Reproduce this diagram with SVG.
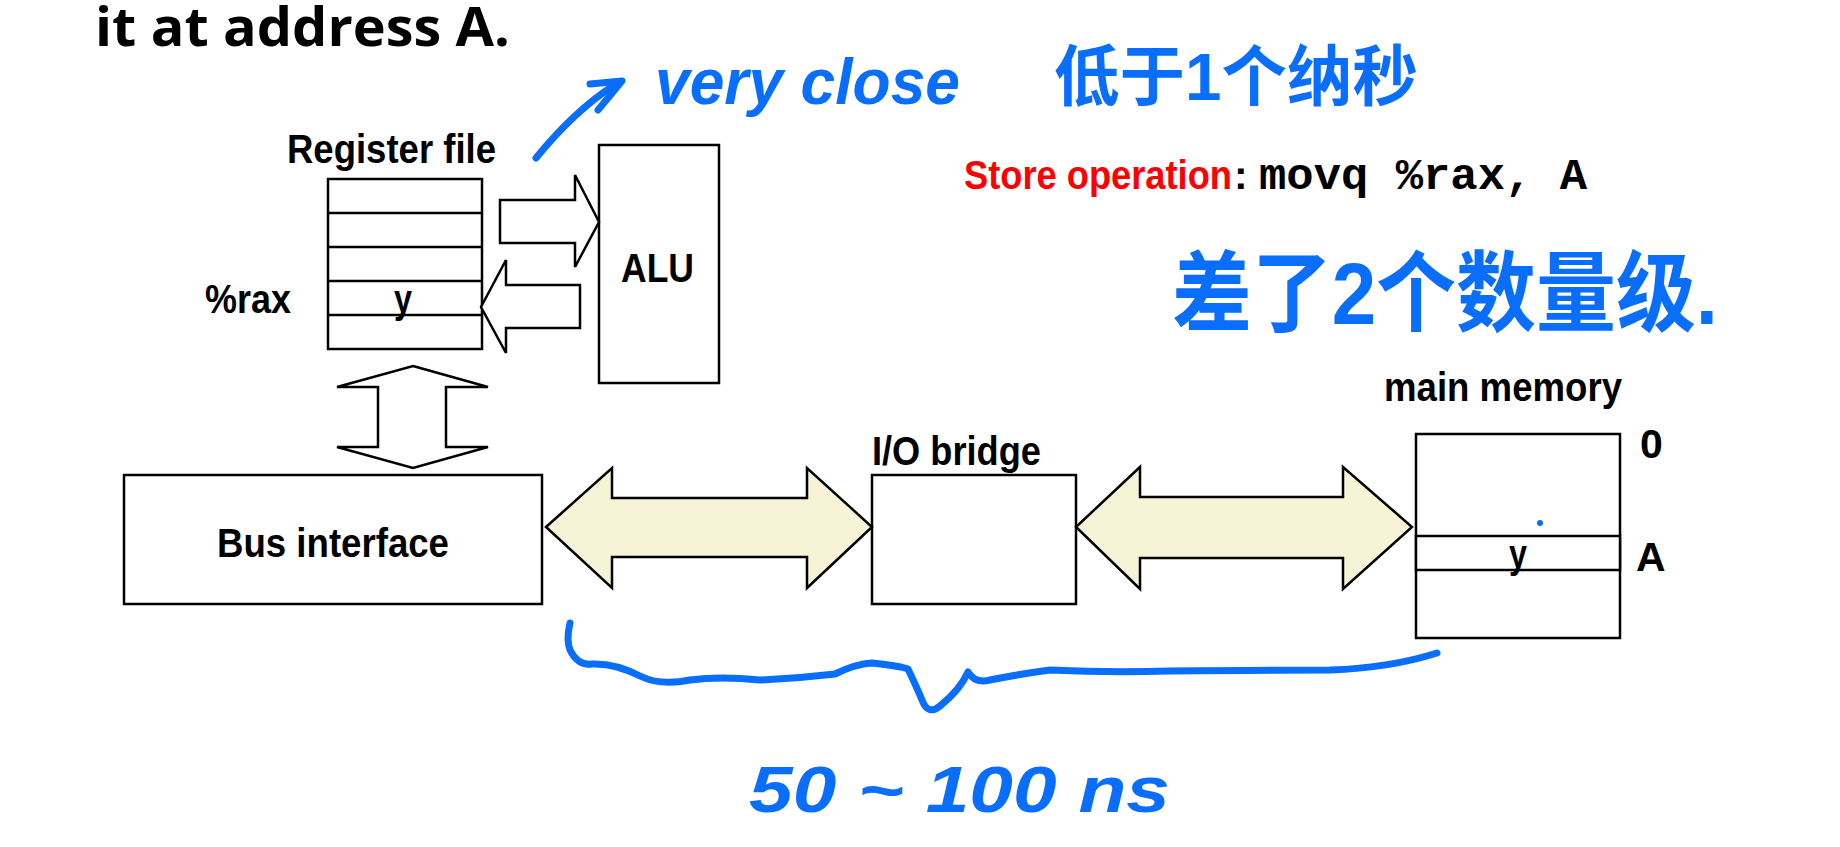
<svg xmlns="http://www.w3.org/2000/svg" width="1840" height="847" viewBox="0 0 1840 847">
<defs>
<style>
.box{fill:#fff;stroke:#000;stroke-width:2.5}
.line{stroke:#000;stroke-width:2.5}
.blk{fill:#fff;stroke:#000;stroke-width:2.5;stroke-linejoin:miter}
.bus{fill:#f7f3d6;stroke:#000;stroke-width:2.5;stroke-linejoin:miter}
.lbl{font-family:"Liberation Sans",Arial,sans-serif;font-weight:bold;font-size:41px;fill:#000}
.title{font-family:"Open Sans","Liberation Sans",sans-serif;font-weight:bold;font-size:54px;fill:#000}
.mono{font-family:"Liberation Mono","Courier New",monospace;font-weight:bold;font-size:44px;fill:#000}
.hand{font-family:"Liberation Sans","Noto Sans CJK SC",sans-serif;font-weight:bold;fill:#0a6efd}
.ink{fill:none;stroke:#0a6efd;stroke-linecap:round;stroke-linejoin:round}
</style>
</defs>
<rect width="1840" height="847" fill="#fff"/>

<text class="title" x="95" y="46" textLength="415" lengthAdjust="spacingAndGlyphs">it at address A.</text>

<g id="register-file">
<text class="lbl" x="287" y="163" textLength="209" lengthAdjust="spacingAndGlyphs">Register file</text>
<rect class="box" x="328" y="179" width="154" height="170"/>
<line class="line" x1="328" y1="213" x2="482" y2="213"/>
<line class="line" x1="328" y1="247" x2="482" y2="247"/>
<line class="line" x1="328" y1="281" x2="482" y2="281"/>
<line class="line" x1="328" y1="315" x2="482" y2="315"/>
<text class="lbl" x="205" y="313" textLength="86" lengthAdjust="spacingAndGlyphs">%rax</text>
<text class="lbl" x="394" y="313" textLength="18" lengthAdjust="spacingAndGlyphs">y</text>
</g>

<g id="alu">
<rect class="box" x="599" y="145" width="120" height="238"/>
<text class="lbl" x="621" y="282" textLength="73" lengthAdjust="spacingAndGlyphs">ALU</text>
</g>

<g id="bus-interface">
<rect class="box" x="124" y="475" width="418" height="129"/>
<text class="lbl" x="217" y="557" textLength="232" lengthAdjust="spacingAndGlyphs">Bus interface</text>
</g>

<g id="io-bridge">
<text class="lbl" x="872" y="465" textLength="169" lengthAdjust="spacingAndGlyphs">I/O bridge</text>
<rect class="box" x="872" y="475" width="204" height="129"/>
</g>

<g id="main-memory">
<text class="lbl" x="1384" y="401" textLength="238" lengthAdjust="spacingAndGlyphs">main memory</text>
<rect class="box" x="1416" y="434" width="204" height="204"/>
<rect class="box" x="1416" y="536" width="204" height="34"/>
<text class="lbl" x="1509" y="568" textLength="18" lengthAdjust="spacingAndGlyphs">y</text>
<text class="lbl" x="1640" y="458">0</text>
<text class="lbl" x="1636" y="571">A</text>
<circle cx="1540" cy="523" r="3" fill="#0a6efd"/>
</g>

<g id="connectors">
<polygon class="blk" points="500,200 575,200 575,175 599,222 575,267 575,243 500,243"/>
<polygon class="blk" points="580,285 506,285 506,260 481,307 506,353 506,328 580,328"/>
<polygon class="blk" points="413,366 488,387 446,387 446,447 488,447 413,468 337,447 378,447 378,387 337,387"/>
<polygon class="bus" points="546,527 612,468 612,498 807,498 807,468 872,527 807,588 807,557 612,557 612,588"/>
<polygon class="bus" points="1076,527 1140,467 1140,497 1343,497 1343,467 1412,527 1343,589 1343,558 1140,558 1140,589"/>
</g>

<g id="store-op">
<text class="lbl" x="964" y="189" style="fill:#ff0000" textLength="268" lengthAdjust="spacingAndGlyphs">Store operation</text>
<text class="lbl" x="1234" y="189">:</text>
<text class="mono" x="1259" y="189" textLength="328" lengthAdjust="spacingAndGlyphs">movq %rax, A</text>
</g>

<g id="annotations">
<path class="ink" stroke-width="7" d="M536,158 Q575,110 616,84"/>
<path class="ink" stroke-width="7" d="M590,84 L622,81 L598,110"/>
<text class="hand" x="655" y="104" font-size="64" textLength="305" lengthAdjust="spacingAndGlyphs" font-style="italic">very close</text>
<text class="hand" x="1054" y="100" font-size="66" textLength="364" lengthAdjust="spacingAndGlyphs">低于1个纳秒</text>
<text class="hand" x="1172" y="324" font-size="88" textLength="546" lengthAdjust="spacingAndGlyphs">差了2个数量级.</text>
<path class="ink" stroke-width="7" d="M570,623 Q566,640 570,650 Q578,666 592,664 Q615,663 640,676 Q660,686 690,680 Q720,676 760,680 Q800,678 835,674 Q855,664 872,663 Q900,666 908,669 Q918,690 922,700 Q928,716 940,706 Q960,690 968,672 Q975,684 990,680 Q1020,674 1050,670 Q1110,673 1170,671 Q1260,670 1330,670 Q1390,668 1437,653"/>
<text class="hand" x="749" y="812" font-size="64" textLength="421" lengthAdjust="spacingAndGlyphs" font-style="italic">50 ~ 100 ns</text>
</g>
</svg>
